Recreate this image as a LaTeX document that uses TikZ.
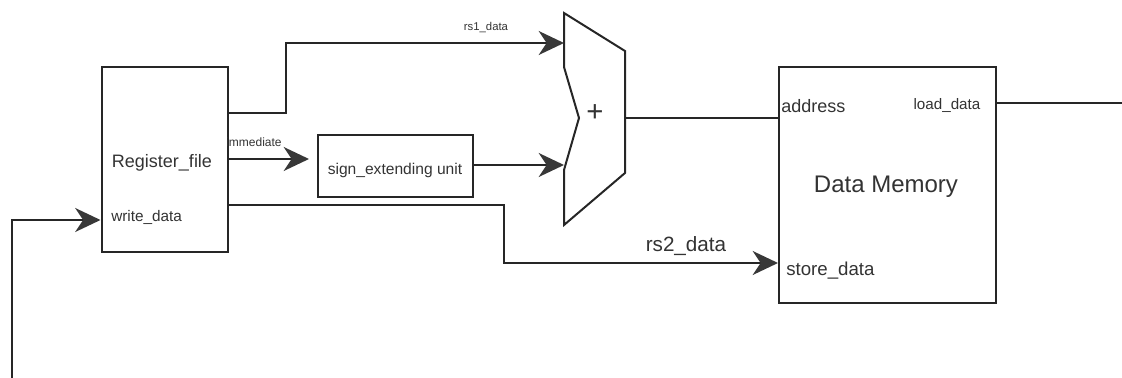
\documentclass[tikz,border=0pt]{standalone}
\usepackage{fontspec}
\setmainfont{Liberation Sans}
\usetikzlibrary{arrows.meta}

\begin{document}
\begin{tikzpicture}[
      x=0.75pt, y=-0.75pt,
      wire/.style={line width=1.5pt, draw=black!85},
      arr/.style={wire, -{Stealth[length=19pt, width=18pt, inset=6pt, color=black!78]}},
      block/.style={draw=black!85, line width=1.5pt, inner sep=0pt},
      lbl/.style={text=black!80, inner sep=0pt}
    ]
    \useasboundingbox (0,0) rectangle (1122,378);
    % blocks
    \node[block, minimum width=94.5pt, minimum height=138.75pt] (regfile) at (164.5,159.5) {};
    \node[block, minimum width=116.25pt, minimum height=46.5pt] (signext) at (395.5,166) {};
    \node[block, minimum width=162.75pt, minimum height=177pt] (dmem) at (887.5,185) {};
    % adder
    \draw[block] (564,13) -- (625,51) -- (625,173) -- (564,225) -- (564,170)
      -- (579,118) -- (564,67) -- cycle;
    \coordinate (addin1) at (564,43);
    \coordinate (addin2) at (564,165);
    \coordinate (addout) at (625,118);
    \coordinate (ldout) at (1122,103);
    \coordinate (fbin) at (12,378);
    % texts
    \node[lbl, font=\fontsize{13.5}{15}\selectfont] (rftxt) at (162,163) {Register\_file};
    \node[lbl, anchor=west, font=\fontsize{11.5}{13}\selectfont] (wdtxt) at (111,217) {write\_data};
    \node[lbl, font=\fontsize{11.7}{13}\selectfont] (setxt) at (395,170) {sign\_extending unit};
    \node[lbl, anchor=west, font=\fontsize{9}{10}\selectfont] (immtxt) at (226,142) {immediate};
    \node[lbl, font=\fontsize{8.5}{10}\selectfont] (rs1txt) at (486,28) {rs1\_data};
    \node[lbl, font=\fontsize{15.5}{17}\selectfont] (rs2txt) at (686,246) {rs2\_data};
    \node[lbl, font=\fontsize{22}{24}\selectfont] (plus) at (595,113) {+};
    \node[lbl, anchor=west, font=\fontsize{13.5}{15}\selectfont] (addrtxt) at (781,106) {address};
    \node[lbl, font=\fontsize{11.4}{13}\selectfont] (ldtxt) at (947,106) {load\_data};
    \node[lbl, font=\fontsize{18}{20}\selectfont] (dmtxt) at (886,187) {Data Memory};
    \node[lbl, anchor=west, font=\fontsize{14}{16}\selectfont] (sdtxt) at (786,271) {store\_data};
    % connectors
    \draw[arr] (regfile.east |- 0,113) -- (286,113) -- (286,43) -- (addin1);
    \draw[arr, shorten >=6pt] (regfile.east |- 0,159) -- (signext.west |- 0,159);
    \draw[arr] (signext.east |- addin2) -- (addin2);
    \draw[arr] (regfile.east |- 0,205) -- (504,205) -- (504,263) -- (dmem.west |- 0,263);
    \draw[wire] (addout) -- (dmem.west |- addout);
    \draw[wire] (dmem.east |- ldout) -- (ldout);
    \draw[arr] (fbin) |- (regfile.west |- 0,220);
  \end{tikzpicture}
\end{document}
